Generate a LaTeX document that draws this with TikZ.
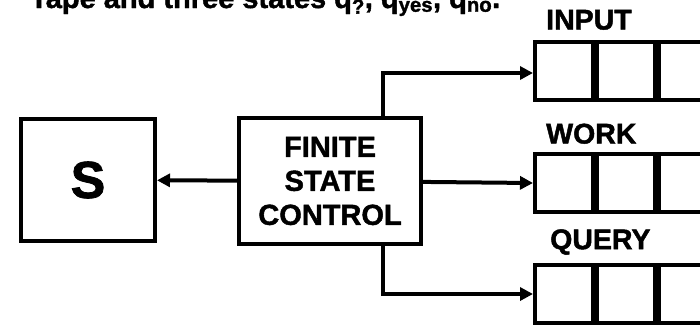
\documentclass[tikz,border=0pt]{standalone}
\usepackage{fontspec}
\setmainfont{Liberation Sans}[BoldFeatures={FakeBold=1.5}]
\usetikzlibrary{arrows.meta,positioning}

\begin{document}
\begin{tikzpicture}[
  x=1pt, y=-1pt,
  every node/.style={font=\bfseries, align=center, inner sep=0pt},
  box/.style={draw, line width=4pt, minimum width=134pt, minimum height=122pt},
  cell/.style={draw, line width=4pt, minimum width=58pt, minimum height=58pt},
  tapelabel/.style={font=\fontsize{28.5}{28.5}\selectfont\bfseries, anchor=south west},
  arrow/.style={-{Triangle[length=13pt, width=13pt]}, line width=4pt}
]
  \useasboundingbox (0,0) rectangle (700,325);

  % Title, cut off at the top
  \node (title) [anchor=base west, font=\fontsize{29}{29}\selectfont\bfseries] at (30,8)
    {Tape and three states q\textsubscript{?}, q\textsubscript{yes}, q\textsubscript{no}.};

  % Nodes
  \node (s) [box, font=\fontsize{52}{52}\selectfont\bfseries] at (88,180) {S};
  \node (fsc) [box, minimum width=182pt, minimum height=126pt,
    font=\fontsize{29}{34}\selectfont\bfseries] at (330,181) {FINITE\\STATE\\CONTROL};

  % Tapes
  \node (in1) [cell] at (564,71) {};
  \node (in2) [cell, right=0pt of in1] {};
  \node (in3) [cell, right=0pt of in2] {};
  \node (wk1) [cell] at (564,183) {};
  \node (wk2) [cell, right=0pt of wk1] {};
  \node (wk3) [cell, right=0pt of wk2] {};
  \node (qu1) [cell] at (564,294) {};
  \node (qu2) [cell, right=0pt of qu1] {};
  \node (qu3) [cell, right=0pt of qu2] {};

  \node (inlabel) [tapelabel, above right=10pt and 13pt of in1.north west] {INPUT};
  \node (wklabel) [tapelabel, above right=8pt and 13pt of wk1.north west] {WORK};
  \node (qulabel) [tapelabel, above right=8pt and 17pt of qu1.north west] {QUERY};

  % Paths
  \draw [arrow] (fsc) -- (s);
  \draw [arrow] ([xshift=53pt]fsc.north) |- ([yshift=-2pt]in1.west);
  \draw [arrow] (fsc) -- (wk1.west);
  \draw [arrow] ([xshift=53pt]fsc.south) |- (qu1.west);
\end{tikzpicture}
\end{document}
